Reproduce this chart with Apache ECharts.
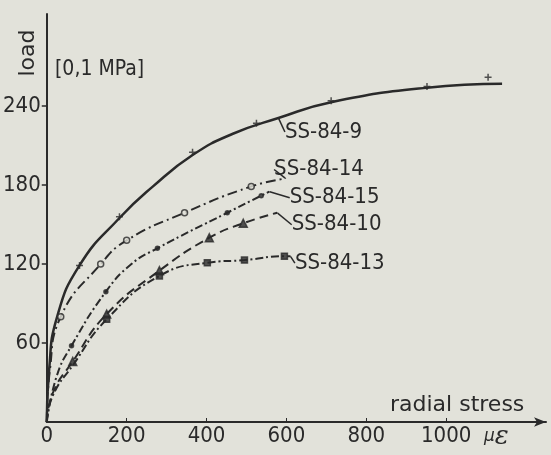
<!DOCTYPE html>
<html>
<head>
<meta charset="utf-8">
<script src="https://cdn.jsdelivr.net/npm/echarts@6/dist/echarts.min.js"></script>
<style>
    html, body { margin: 0; padding: 0; background: #e2e2da; }
    #main { width: 551px; height: 455px; }
</style>
</head>
<body>
<div id="main"></div>
<script>
    // 坐标轴刻度
    var xTicks = [0, 200, 400, 600, 800, 1000];
    var yTicks = [60, 120, 180, 240];

    // 各试件曲线 [radial stress, load]
    var curve9 = [[0, 0], [6, 40], [25, 79], [82, 119], [182, 155], [266, 179], [366, 203], [466, 219], [580, 231], [712, 243], [952, 254], [1140, 257]];
    var marks9 = [[82, 119], [182, 156], [365, 205], [525, 227], [712, 244], [952, 255], [1105, 262]];

    var curve14 = [[0, 0], [8, 40], [35, 80], [135, 120], [200, 138], [345, 159], [512, 179], [598, 185]];
    var marks14 = [[35, 80], [135, 120], [200, 138], [345, 159], [512, 179]];

    var curve15 = [[0, 0], [25, 35], [62, 58], [148, 99], [212, 120], [277, 132], [452, 159], [537, 172], [557, 175]];
    var marks15 = [[62, 58], [148, 99], [277, 132], [452, 159], [537, 172]];

    var curve10 = [[0, 0], [15, 22], [65, 46], [150, 82], [282, 115], [407, 140], [492, 151], [577, 159]];
    var marks10 = [[65, 46], [150, 82], [282, 115], [407, 140], [492, 151]];

    var curve13 = [[0, 0], [15, 20], [65, 43], [150, 78], [282, 111], [402, 121], [495, 123], [595, 126], [610, 126]];
    var marks13 = [[150, 78], [282, 111], [402, 121], [495, 123], [595, 126]];

    var ink = '#2a2a2a';
    var paper = '#e2e2da';
    var numFont = 'DejaVu Sans Condensed';

    // 曲线 + 标签（标签挂在某个点上，带引线）
    function curveSeries(name, data, labelIdx, dash, width, dx, dy) {
        var pts = data.map(function(p, i) {
            if (i !== labelIdx) return { value: p, symbol: 'none' };
            return {
                value: p,
                symbol: 'circle',
                symbolSize: 1,
                label: { show: true }
            };
        });
        return {
            name: name,
            type: 'line',
            data: pts,
            smooth: 0.5,
            showSymbol: true,
            showAllSymbol: true,
            itemStyle: { color: ink },
            lineStyle: { color: ink, width: width, type: dash },
            label: {
                show: false,
                position: 'right',
                distance: 0,
                formatter: name,
                color: ink,
                fontFamily: numFont,
                fontSize: 22
            },
            labelLine: { show: true, lineStyle: { color: ink, width: 1.5 } },
            labelLayout: { dx: dx, dy: dy },
            z: 2
        };
    }

    function markSeries(name, data, symbol, size, filled) {
        return {
            name: name + '-m',
            type: 'scatter',
            data: data,
            symbol: symbol,
            symbolSize: size,
            itemStyle: {
                color: filled ? ink : paper,
                borderColor: ink,
                borderWidth: 1.5
            },
            z: 3
        };
    }

    var chart = echarts.init(document.getElementById('main'));

    var option = {
        backgroundColor: paper,
        animation: false,
        grid: { left: 46, right: 5, top: 14, bottom: 33 },
        xAxis: {
            type: 'value',
            min: 0,
            max: 1250,
            splitLine: { show: false },
            axisLine: {
                lineStyle: { color: ink, width: 2 },
                symbol: ['none', 'arrow'],
                symbolSize: [7, 12]
            },
            axisTick: { inside: true, length: 4, customValues: xTicks.slice(1), lineStyle: { color: ink } },
            axisLabel: {
                customValues: xTicks,
                margin: 3,
                color: ink,
                fontFamily: numFont,
                fontSize: 22,
                formatter: function(v) { return String(v); }
            }
        },
        yAxis: {
            type: 'value',
            min: 0,
            max: 310,
            splitLine: { show: false },
            axisLine: { lineStyle: { color: ink, width: 2 } },
            axisTick: { length: 5, customValues: yTicks, lineStyle: { color: ink, width: 1.5 } },
            axisLabel: {
                customValues: yTicks,
                margin: 6,
                color: ink,
                fontFamily: numFont,
                fontSize: 22
            }
        },
        series: [
            curveSeries('SS-84-9', curve9, 8, 'solid', 2.5, 6, 14),
            markSeries('SS-84-9', marks9, 'path://M0,5L10,5M5,0L5,10', 7, true),
            curveSeries('SS-84-14', curve14, curve14.length - 1, [10, 4, 2, 4], 2, -12, -9),
            markSeries('SS-84-14', marks14, 'circle', 6, false),
            curveSeries('SS-84-15', curve15, curve15.length - 1, [8, 3, 2, 3], 2, 20, 6),
            markSeries('SS-84-15', marks15, 'circle', 4, true),
            curveSeries('SS-84-10', curve10, curve10.length - 1, [9, 5], 2, 14, 12),
            markSeries('SS-84-10', marks10, 'triangle', 8, true),
            curveSeries('SS-84-13', curve13, curve13.length - 1, [8, 3, 2, 3], 2, 4, 7),
            markSeries('SS-84-13', marks13, 'rect', 6, true)
        ],
        graphic: [
            {
                type: 'text', x: 28, y: 53, rotation: Math.PI / 2,
                style: { text: 'load', fill: ink, font: '22px DejaVu Sans', align: 'center', verticalAlign: 'middle' }
            },
            {
                type: 'text', x: 55, y: 70,
                style: { text: '[0,1 MPa]', fill: ink, font: '21px DejaVu Sans Condensed', verticalAlign: 'middle' }
            },
            {
                type: 'text', x: 390, y: 405,
                style: { text: 'radial stress', fill: ink, font: '22px DejaVu Sans', verticalAlign: 'middle' }
            },
            {
                type: 'text', x: 484, y: 450,
                style: {
                    text: '{m|μ}{e|ε}',
                    fill: ink,
                    verticalAlign: 'bottom',
                    rich: {
                        m: { font: 'italic 17px DejaVu Sans', fill: ink },
                        e: { font: 'italic 26px DejaVu Serif', fill: ink }
                    }
                }
            }
        ]
    };

    chart.setOption(option);
</script>
</body>
</html>
